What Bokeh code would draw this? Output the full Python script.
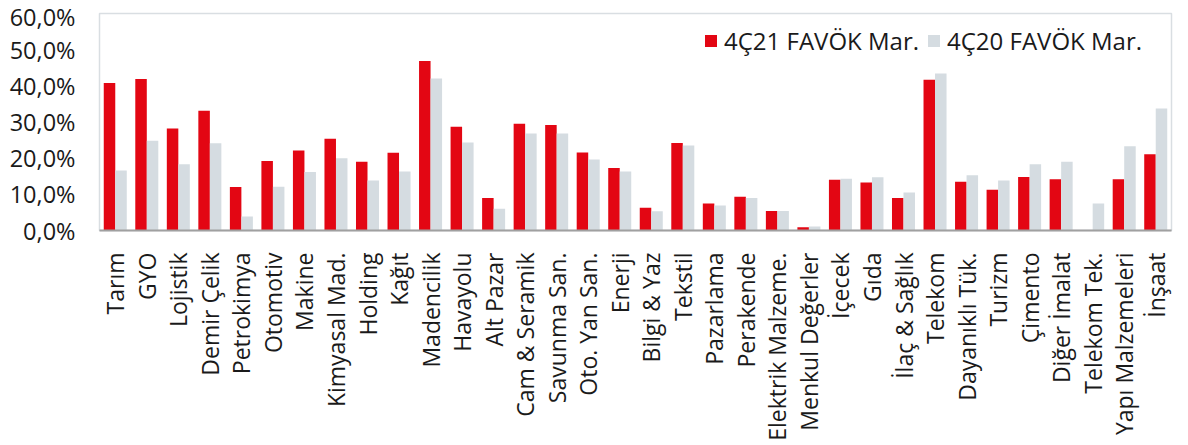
from bokeh.plotting import figure
from bokeh.models import ColumnDataSource, FactorRange, Legend, LegendItem, CustomJSTickFormatter
from bokeh.transform import dodge
from bokeh.embed import file_html
from bokeh.resources import INLINE

categories = ["Tarım", "GYO", "Lojistik", "Demir Çelik", "Petrokimya", "Otomotiv", "Makine",
              "Kimyasal Mad.", "Holding", "Kağıt", "Madencilik", "Havayolu", "Alt Pazar",
              "Cam & Seramik", "Savunma San.", "Oto. Yan San.", "Enerji", "Bilgi & Yaz",
              "Tekstil", "Pazarlama", "Perakende", "Elektrik Malzeme.", "Menkul Değerler",
              "İçecek", "Gıda", "İlaç & Sağlık", "Telekom", "Dayanıklı Tük.", "Turizm",
              "Çimento", "Diğer İmalat", "Telekom Tek.", "Yapı Malzemeleri", "İnşaat"]
q4_21 = [40.8, 41.9, 28.2, 33.1, 12.0, 19.2, 22.1, 25.4, 19.0, 21.5, 46.9, 28.7, 9.0,
         29.5, 29.2, 21.6, 17.3, 6.3, 24.2, 7.5, 9.3, 5.4, 0.9, 14.0, 13.3, 9.0, 41.7,
         13.5, 11.3, 14.8, 14.2, 0.0, 14.2, 21.1]
q4_20 = [16.6, 24.8, 18.3, 24.1, 3.9, 12.1, 16.2, 20.0, 13.8, 16.3, 42.0, 24.3, 6.0,
         26.8, 26.8, 19.6, 16.3, 5.3, 23.5, 6.9, 9.0, 5.4, 1.1, 14.3, 14.7, 10.5, 43.4,
         15.3, 13.8, 18.3, 19.0, 7.5, 23.3, 33.7]
y_ticks = [0, 10, 20, 30, 40, 50, 60]
series_names = ["4Ç21 FAVÖK Mar.", "4Ç20 FAVÖK Mar."]

RED = "#e30613"
GRAY = "#d5dce1"
FONT = "Open Sans"

src = ColumnDataSource(dict(cat=categories, a=q4_21, b=q4_20))

p = figure(x_range=FactorRange(*categories, range_padding=0), y_range=(0, 60),
           frame_width=1072, frame_height=217, output_backend="svg", toolbar_location=None,
           min_border_left=99, min_border_top=13, min_border_right=8, min_border_bottom=4)

bw = 0.365
r1 = p.vbar(x=dodge("cat", -bw / 2, range=p.x_range), top="a", width=bw, source=src,
            fill_color=RED, line_color=None)
r2 = p.vbar(x=dodge("cat", bw / 2, range=p.x_range), top="b", width=bw, source=src,
            fill_color=GRAY, line_color=None)

p.outline_line_color = "#d9dee2"
p.outline_line_width = 1.5
p.xgrid.grid_line_color = None
p.ygrid.grid_line_color = None

p.yaxis.ticker = y_ticks
p.yaxis.formatter = CustomJSTickFormatter(code="return tick.toFixed(1).replace('.', ',') + '%';")
p.yaxis.axis_line_color = None
p.yaxis.major_tick_line_color = None
p.yaxis.minor_tick_line_color = None
p.yaxis.major_label_text_font = FONT
p.yaxis.major_label_text_font_size = "23.5px"
p.yaxis.major_label_text_color = "#1a1a1a"
p.yaxis.major_label_standoff = 18

p.xaxis.axis_line_color = "#a0a0a0"
p.xaxis.axis_line_width = 2
p.xaxis.major_tick_line_color = None
p.xaxis.minor_tick_line_color = None
p.xaxis.major_label_orientation = 3.14159265 / 2
p.xaxis.major_label_text_font = FONT
p.xaxis.major_label_text_font_size = "23px"
p.xaxis.major_label_text_color = "#1a1a1a"
p.xaxis.major_label_standoff = 16

legend = Legend(items=[LegendItem(label=series_names[0], renderers=[r1]),
                       LegendItem(label=series_names[1], renderers=[r2])],
                orientation="horizontal", location=(604, 173),
                border_line_color=None, background_fill_alpha=0,
                label_text_font=FONT, label_text_font_size="24px", label_text_color="#1a1a1a",
                glyph_width=15, glyph_height=15, spacing=7, label_standoff=6,
                margin=0, padding=6)
p.add_layout(legend)

open("out.html", "w").write(file_html(p, INLINE))
